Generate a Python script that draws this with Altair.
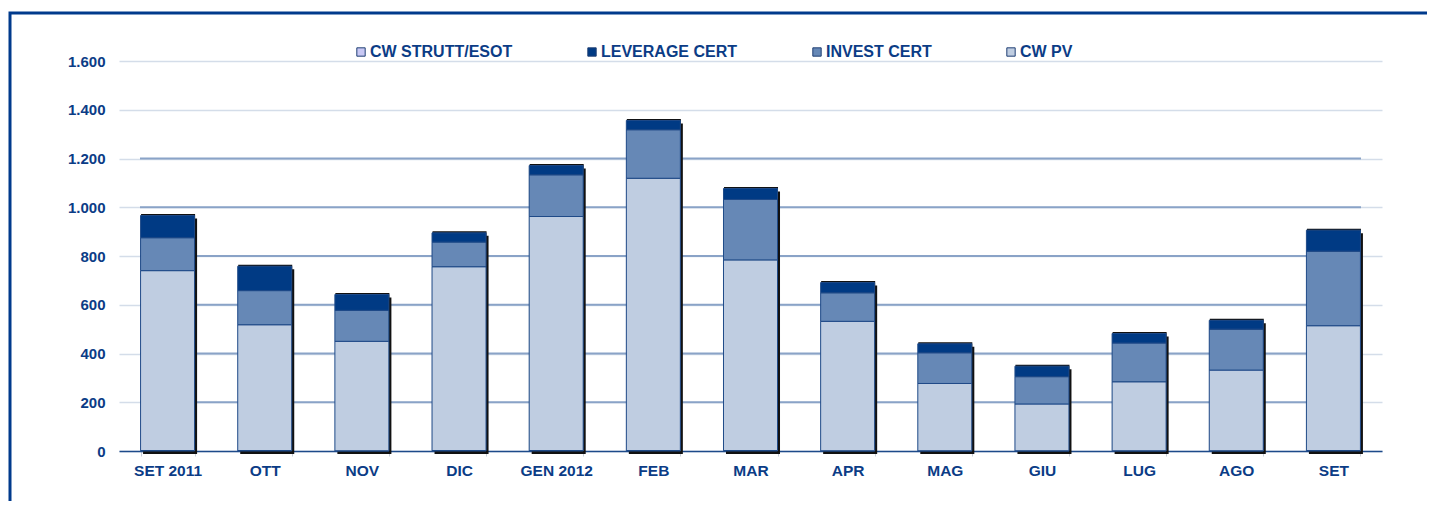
import altair as alt
import pandas as pd

months = ["SET 2011", "OTT", "NOV", "DIC", "GEN 2012", "FEB", "MAR", "APR",
          "MAG", "GIU", "LUG", "AGO", "SET"]
cw_pv = [738, 516, 449, 754, 960, 1117, 782, 531, 276, 192, 283, 331, 512]
invest = [135, 140, 127, 101, 171, 199, 248, 117, 126, 112, 159, 168, 306]
leverage = [91, 100, 65, 38, 38, 38, 45, 42, 37, 43, 39, 36, 86]
strutt = [2, 2, 1, 2, 2, 2, 2, 1, 1, 1, 1, 1, 2]

series_names = ["CW STRUTT/ESOT", "LEVERAGE CERT", "INVEST CERT", "CW PV"]
series_colors = ["#c8c8f4", "#003a84", "#6688b6", "#bfcde1"]
y_ticks = [0, 200, 400, 600, 800, 1000, 1200, 1400, 1600]
grid_dark = [200, 400, 600, 800, 1000, 1200]

stack_rank = {"CW STRUTT/ESOT": 0, "CW PV": 1, "INVEST CERT": 2, "LEVERAGE CERT": 3}
rows = []
for i, m in enumerate(months):
    for name, vals in [("CW STRUTT/ESOT", strutt), ("CW PV", cw_pv),
                       ("INVEST CERT", invest), ("LEVERAGE CERT", leverage)]:
        rows.append({"month": m, "series": name, "value": vals[i], "rank": stack_rank[name]})
df = pd.DataFrame(rows)

W, H = 1263, 390
FONT = "Liberation Sans"
TXT = "#0b3c86"

x_axis = alt.Axis(title=None, labelFont=FONT, labelFontSize=15.5, labelFontWeight="bold",
                  labelColor=TXT, labelPadding=7, labelAngle=0, domainColor="#1d4a8a",
                  domainWidth=1.5, tickColor="#c8d0dc", tickSize=5, tickBand="extent",
                  grid=False)
y_scale = alt.Scale(domain=[0, 1600], nice=False)
y_axis = alt.Axis(title=None, values=y_ticks,
                  labelExpr="replace(format(datum.value, ','), ',', '.')",
                  labelFont=FONT, labelFontSize=15, labelFontWeight="bold", labelColor=TXT,
                  labelPadding=14, domain=False, ticks=False, grid=True,
                  gridColor="#d4dde9", gridWidth=1.5)
x_scale = alt.Scale(paddingInner=0.444, paddingOuter=0.222)

def xenc():
    return alt.X("month:N", sort=months, scale=x_scale, axis=x_axis)

rules = alt.Chart(pd.DataFrame({"g": grid_dark})).mark_rule(
    color="#8aa3c7", strokeWidth=2
).encode(
    y=alt.Y("g:Q", scale=y_scale, axis=y_axis),
    x=alt.value(21), x2=alt.value(W - 21),
)

totals = alt.Chart(df).transform_aggregate(total="sum(value)", groupby=["month"])

shadow_side = totals.mark_bar(color="#111111", xOffset=2.5, yOffset=3).encode(
    x=xenc(), y=alt.Y("total:Q", scale=y_scale, axis=y_axis)
)
shadow_top = totals.mark_bar(color="#111111", xOffset=0.5, yOffset=-1.5).encode(
    x=xenc(), y=alt.Y("total:Q", scale=y_scale, axis=y_axis)
)

bars = alt.Chart(df).mark_bar(stroke="#1f4a88", strokeWidth=1).encode(
    x=xenc(),
    y=alt.Y("value:Q", stack="zero", scale=y_scale, axis=y_axis),
    color=alt.Color("series:N", scale=alt.Scale(domain=series_names, range=series_colors),
                    legend=alt.Legend(orient="none", legendX=234, legendY=-17,
                                      direction="horizontal", title=None,
                                      symbolType="square", symbolSize=70,
                                      symbolStrokeColor="#1f3f73", symbolStrokeWidth=1,
                                      labelFont=FONT, labelFontSize=16,
                                      labelFontWeight="bold", labelColor=TXT,
                                      columnPadding=71, labelOffset=1, padding=0,
                                      labelLimit=300)),
    order=alt.Order("rank:Q"),
)

frame = alt.Chart(pd.DataFrame({"a": [0]})).mark_rect(
    fillOpacity=0, stroke="#003a8c", strokeWidth=3
).encode(
    x=alt.value(-109), x2=alt.value(W + 80), y=alt.value(-48), y2=alt.value(H + 80)
)

chart = alt.layer(rules, shadow_side, shadow_top, bars, frame).properties(
    width=W, height=H,
    autosize=alt.AutoSizeParams(type="none"),
    padding={"left": 111, "top": 53, "right": 45, "bottom": 50},
).configure_view(strokeWidth=0)

chart.save("out.html", embed_options={"renderer": "svg", "actions": False})
